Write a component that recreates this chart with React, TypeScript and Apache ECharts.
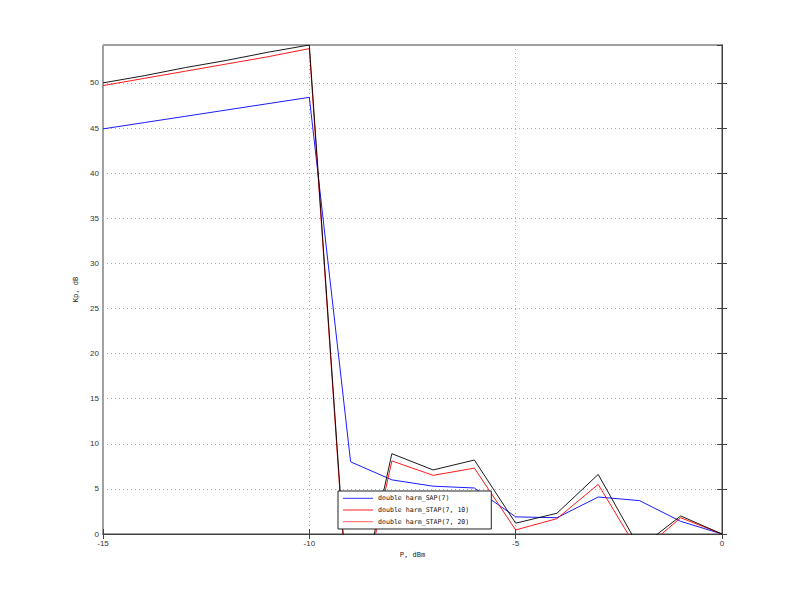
import React, { useEffect, useRef } from "react";
import * as echarts from "echarts";

const xValues = [-15, -14, -13, -12, -11, -10, -9, -8, -7, -6, -5, -4, -3, -2, -1, 0];
const sapValues = [44.9, 45.6, 46.3, 47.0, 47.7, 48.4, 8.0, 6.0, 5.3, 5.1, 1.9, 1.8, 4.1, 3.7, 1.4, 0];
const stap10Values = [49.7, 50.5, 51.3, 52.1, 52.9, 53.8, -12.5, 8.1, 6.5, 7.3, 0.45, 1.7, 5.5, -2.1, 1.8, 0];
const stap20Values = [50.0, 50.8, 51.7, 52.5, 53.4, 54.2, -12, 8.9, 7.1, 8.2, 1.2, 2.3, 6.6, -1.55, 2.0, 0];
const seriesNames = ["double harm_SAP(7)", "double harm_STAP(7, 10)", "double harm_STAP(7, 20)"];
const yMin = 0;
const yMax = 54.2;
const xMin = -15;
const xMax = 0;

const pairs = (ys: number[]) => xValues.map((x, i) => [x, ys[i]]);

export default function App() {
  const ref = useRef<HTMLDivElement>(null);
  useEffect(() => {
    if (!ref.current) return;
    const chart = echarts.init(ref.current, null, { renderer: "svg" });
    const labelFont = { fontFamily: "Liberation Sans", fontSize: 8, color: "#333" };
    const tickCommon = { show: true, inside: true, length: 5, lineStyle: { color: "#404040" } };
    const splitCommon = { show: true, lineStyle: { color: "#a8a8a8", type: [1, 3] as any, width: 1 } };
    chart.setOption({
      animation: false,
      backgroundColor: "#fff",
      grid: { left: 103, right: 77, top: 45, bottom: 66, show: true, borderColor: "#404040", borderWidth: 1, backgroundColor: "#fff" },
      legend: {
        left: 338,
        top: 491,
        orient: "vertical",
        icon: "rect",
        itemWidth: 30,
        itemHeight: 1,
        itemGap: 3.7,
        padding: [3.3, 22, 3.3, 5],
        borderColor: "#222",
        borderWidth: 1,
        backgroundColor: "#fff",
        textStyle: { fontFamily: "DejaVu Sans Mono", fontSize: 6.6, lineHeight: 8, color: "#111" },
        data: [
          { name: seriesNames[0], itemStyle: { color: "#3030ff" } },
          { name: seriesNames[1], itemStyle: { color: "#ff2020" } },
          { name: seriesNames[2], itemStyle: { color: "#ff6060" } },
        ],
      },
      xAxis: [
        {
          type: "value",
          min: xMin,
          max: xMax,
          interval: 5,
          name: "P, dBm",
          nameLocation: "middle",
          nameGap: 17,
          nameTextStyle: { fontFamily: "DejaVu Sans Mono", fontSize: 7, color: "#222" },
          axisLine: { show: true, lineStyle: { color: "#404040" } },
          axisTick: tickCommon,
          axisLabel: { ...labelFont, margin: 5 },
          splitLine: splitCommon,
        },
        {
          type: "value",
          position: "top",
          min: xMin,
          max: xMax,
          interval: 5,
          axisLine: { show: true, lineStyle: { color: "#404040" } },
          axisTick: tickCommon,
          axisLabel: { show: false },
          splitLine: { show: false },
        },
      ],
      yAxis: [
        {
          type: "value",
          min: yMin,
          max: yMax,
          interval: 5,
          name: "Kp, dB",
          nameLocation: "middle",
          nameGap: 15,
          nameTextStyle: { fontFamily: "DejaVu Sans Mono", fontSize: 7, color: "#222" },
          axisLine: { show: true, lineStyle: { color: "#404040" } },
          axisTick: tickCommon,
          axisLabel: {
            ...labelFont,
            margin: 4,
            showMaxLabel: false,
            formatter: (v: number) => (Math.abs(v % 5) < 1e-9 ? String(v) : ""),
          },
          splitLine: splitCommon,
        },
        {
          type: "value",
          position: "right",
          min: yMin,
          max: yMax,
          interval: 5,
          axisLine: { show: true, lineStyle: { color: "#404040" } },
          axisTick: tickCommon,
          axisLabel: { show: false },
          splitLine: { show: false },
        },
      ],
      series: [
        {
          name: seriesNames[0],
          type: "line",
          data: pairs(sapValues),
          symbol: "none",
          clip: true,
          lineStyle: { color: "#0000ff", width: 0.9 },
          itemStyle: { color: "#0000ff" },
        },
        {
          name: seriesNames[1],
          type: "line",
          data: pairs(stap10Values),
          symbol: "none",
          clip: true,
          lineStyle: { color: "#ff0000", width: 0.9 },
          itemStyle: { color: "#ff0000" },
        },
        {
          name: seriesNames[2],
          type: "line",
          data: pairs(stap20Values),
          symbol: "none",
          clip: true,
          lineStyle: { color: "#000000", width: 0.9 },
          itemStyle: { color: "#000000" },
        },
      ],
    });
    return () => chart.dispose();
  }, []);
  return (
    <div
      ref={ref}
      style={{ position: "fixed", left: 0, top: 0, width: 799, height: 600, background: "#fff" }}
    />
  );
}
